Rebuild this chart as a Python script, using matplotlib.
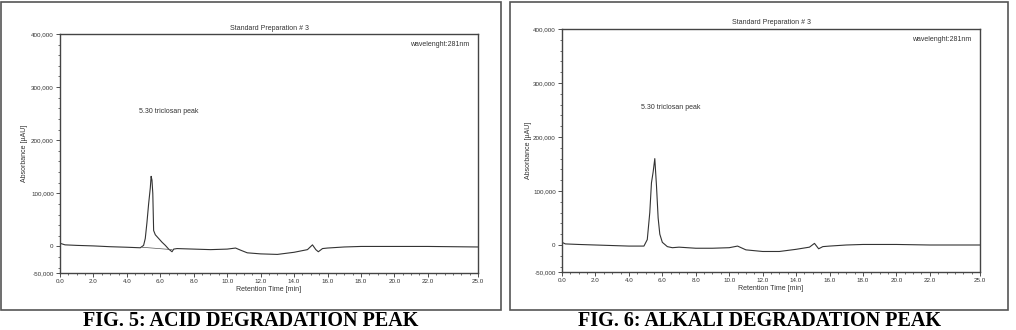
import matplotlib
matplotlib.use("Agg")
import matplotlib.pyplot as plt
from matplotlib.patches import Rectangle
from matplotlib.ticker import MultipleLocator, FuncFormatter

# chromatogram of the acid degradation sample
acid_time = [0.0, 0.3, 1.0, 2.0, 3.0, 4.0, 4.8, 5.0, 5.1, 5.2, 5.3, 5.4, 5.45, 5.5,
             5.55, 5.6, 5.7, 5.9, 6.1, 6.3, 6.5, 6.7, 6.8, 7.0, 8.0, 9.0, 10.0, 10.5,
             10.8, 11.2, 12.0, 13.0, 14.0, 14.8, 15.1, 15.3, 15.45, 15.7, 16.0, 17.0,
             18.0, 20.0, 22.0, 25.0]
acid_abs = [6000, 3000, 2000, 1000, -500, -1500, -2500, 2000, 15000, 45000, 80000,
            110000, 132000, 125000, 100000, 30000, 22000, 15000, 8000, 2000, -5000,
            -10000, -5000, -4000, -5000, -6000, -5000, -3000, -7000, -12000, -14000,
            -15000, -11000, -6000, 3000, -6000, -10000, -4000, -3000, -1000, 0, 0, 0,
            -1000]
acid_base_time = [4.9, 6.7]
acid_base_abs = [-1500, -6000]

# chromatogram of the alkali degradation sample
alk_time = [0.0, 0.2, 1.0, 2.0, 3.0, 4.0, 4.9, 5.1, 5.25, 5.35, 5.45, 5.55, 5.65,
            5.75, 5.85, 6.0, 6.3, 6.6, 7.0, 8.0, 9.0, 10.0, 10.5, 11.0, 12.0, 13.0,
            14.0, 14.8, 15.1, 15.35, 15.6, 16.0, 17.0, 18.0, 20.0, 22.0, 25.0]
alk_abs = [5000, 2000, 1000, 0, -1000, -2000, -2000, 10000, 60000, 115000, 135000,
           160000, 110000, 50000, 20000, 5000, -3000, -5000, -4000, -6000, -6000,
           -5000, -2000, -9000, -12000, -12000, -8000, -4000, 3000, -7000, -3000,
           -2000, 0, 1000, 1000, 0, 0]

x_ticks = [0.0, 2.0, 4.0, 6.0, 8.0, 10.0, 12.0, 14.0, 16.0, 18.0, 20.0, 22.0, 25.0]
y_ticks = [-50000, 0, 100000, 200000, 300000, 400000]

W, H = 1016, 330
fig = plt.figure(figsize=(W / 100, H / 100), dpi=100)
plt.rcParams['font.family'] = ['Liberation Sans', 'DejaVu Sans']


def px_axes(x0, y0, x1, y1):
    return fig.add_axes([x0 / W, 1 - y1 / H, (x1 - x0) / W, (y1 - y0) / H])


def fmt_y(v, pos):
    if v == 0:
        return "0"
    return "{:,}".format(int(v))


def draw_panel(box, ax_box, t, a, fig_caption, title_y, ylab_x, extra=None):
    # outer frame
    fig.patches.append(Rectangle((box[0] / W, 1 - box[3] / H), (box[2] - box[0]) / W,
                                 (box[3] - box[1]) / H, transform=fig.transFigure,
                                 fill=False, edgecolor='#555555', linewidth=1.2))
    ax = px_axes(*ax_box)
    ax.plot(t, a, color='#333333', linewidth=0.8)
    if extra is not None:
        ax.plot(extra[0], extra[1], color='#555555', linewidth=0.5)
    ax.set_xlim(0, 25)
    ax.set_ylim(-50000, 400000)
    ax.set_xticks(x_ticks)
    ax.set_xticklabels(["%.1f" % v for v in x_ticks])
    ax.xaxis.set_minor_locator(MultipleLocator(0.5))
    ax.set_yticks(y_ticks)
    ax.yaxis.set_major_formatter(FuncFormatter(fmt_y))
    ax.yaxis.set_minor_locator(MultipleLocator(20000))
    ax.tick_params(which='major', labelsize=4.5, length=3, width=0.6, pad=1.5,
                   colors='#333333')
    ax.tick_params(which='minor', length=1.5, width=0.5, colors='#333333')
    for s in ax.spines.values():
        s.set_linewidth(1.0)
        s.set_color('#444444')
    ax.set_xlabel("Retention Time [min]", fontsize=5, labelpad=1, color='#333333')
    cx = (ax_box[0] + ax_box[2]) / 2
    fig.text(cx / W, 1 - title_y / H, "Standard Preparation # 3", fontsize=5,
             ha='center', va='center', color='#333333')
    fig.text(ylab_x / W, 1 - (ax_box[1] + ax_box[3]) / 2 / H, "Absorbance [µAU]",
             fontsize=5, rotation=90, ha='center', va='center', color='#333333')
    ax.text(0.98, 0.955, "wavelenght:281nm", transform=ax.transAxes, fontsize=5,
            ha='right', va='center', color='#333333')
    ax.text(0.19, 0.675, "5.30 triclosan peak", transform=ax.transAxes, fontsize=5,
            ha='left', va='center', color='#333333')
    fig.text((box[0] + box[2]) / 2 / W, 1 - 321 / H, fig_caption, fontsize=14.5,
             fontweight='bold', family=['Liberation Serif', 'DejaVu Serif'],
             ha='center', va='center', color='black')
    return ax


draw_panel((1, 2, 501, 310), (60, 34, 478, 273), acid_time, acid_abs,
           "FIG. 5: ACID DEGRADATION PEAK", 29, 25,
           extra=(acid_base_time, acid_base_abs))
draw_panel((510, 2, 1008, 310), (562, 29, 980, 272), alk_time, alk_abs,
           "FIG. 6: ALKALI DEGRADATION PEAK", 22, 528)

fig.savefig("out.png", dpi=100)
